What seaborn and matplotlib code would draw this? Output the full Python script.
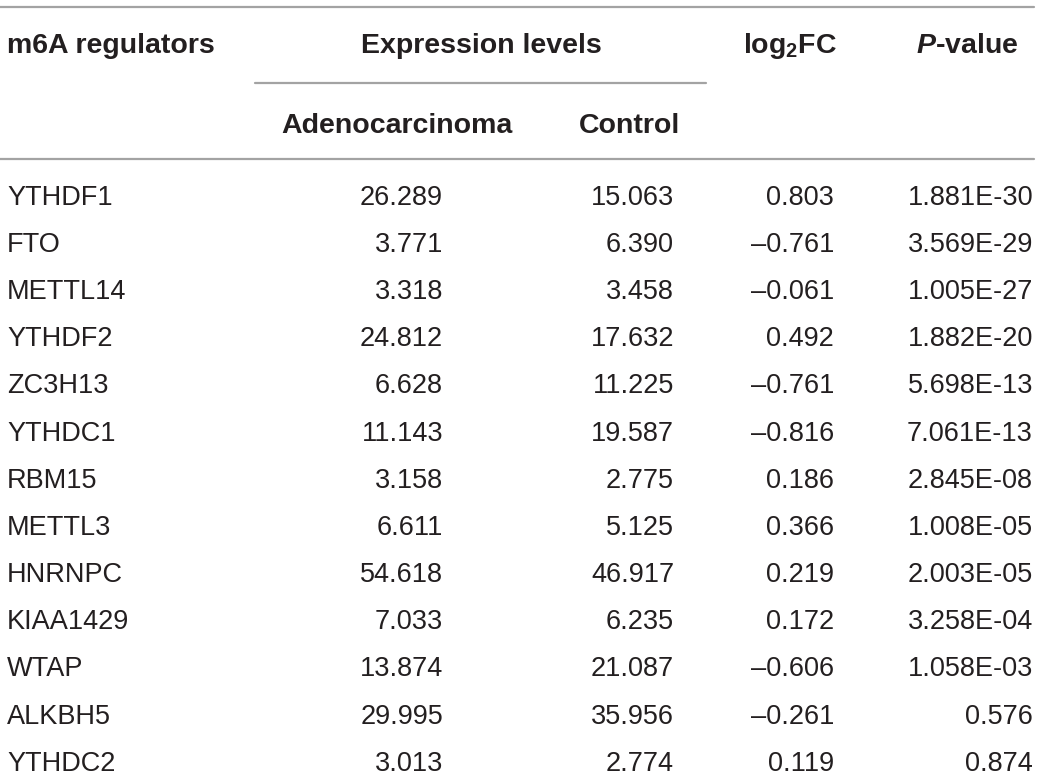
import matplotlib
matplotlib.use("Agg")
from matplotlib import pyplot as plt
import seaborn as sns

sns.set_theme(style="white")
plt.rcParams['font.family'] = ['Liberation Sans', 'DejaVu Sans']
plt.rcParams['mathtext.fontset'] = 'custom'
plt.rcParams['mathtext.rm'] = 'Liberation Sans:bold'
plt.rcParams['mathtext.bf'] = 'Liberation Sans:bold'
plt.rcParams['mathtext.it'] = 'Liberation Sans:bold:italic'

# Table contents
regulators = ["YTHDF1", "FTO", "METTL14", "YTHDF2", "ZC3H13", "YTHDC1", "RBM15",
              "METTL3", "HNRNPC", "KIAA1429", "WTAP", "ALKBH5", "YTHDC2"]
adenocarcinoma = ["26.289", "3.771", "3.318", "24.812", "6.628", "11.143", "3.158",
                  "6.611", "54.618", "7.033", "13.874", "29.995", "3.013"]
control = ["15.063", "6.390", "3.458", "17.632", "11.225", "19.587", "2.775",
           "5.125", "46.917", "6.235", "21.087", "35.956", "2.774"]
log2fc = ["0.803", "\u20130.761", "\u20130.061", "0.492", "\u20130.761", "\u20130.816", "0.186",
          "0.366", "0.219", "0.172", "\u20130.606", "\u20130.261", "0.119"]
p_values = ["1.881E-30", "3.569E-29", "1.005E-27", "1.882E-20", "5.698E-13", "7.061E-13",
            "2.845E-08", "1.008E-05", "2.003E-05", "3.258E-04", "1.058E-03", "0.576", "0.874"]

fig = plt.figure(figsize=(10.4, 7.78), dpi=100)
ax = fig.add_axes([0, 0, 1, 1])
ax.set_xlim(0, 1040)
ax.set_ylim(778, 0)
ax.axis("off")

fs = 19.5
line_col = "#a3a3a3"
txt_col = "#231f20"

# rules
ax.plot([0, 1034], [7, 7], color=line_col, lw=1.6)
ax.plot([255, 706], [82.5, 82.5], color=line_col, lw=1.6)
ax.plot([0, 1034], [158.7, 158.7], color=line_col, lw=1.6)

# header
hdr = dict(fontsize=20.5, fontweight="bold", color=txt_col, va="baseline")
ax.text(7, 53, "m6A regulators", ha="left", **hdr)
ax.text(481, 53, "Expression levels", ha="center", **hdr)
ax.text(790, 53, r"$\mathbf{log_2FC}$", ha="center", **hdr)
ax.text(967, 53, r"$P$-value", ha="center", **hdr)
ax.text(397, 132.5, "Adenocarcinoma", ha="center", **hdr)
ax.text(630, 132.5, "Control", ha="center", **hdr)

# body
row0 = 204.5
step = 47.2
body = dict(fontsize=fs, color=txt_col, va="baseline")
for i, name in enumerate(regulators):
    y = row0 + i * step
    ax.text(7, y, name, ha="left", **body)
    ax.text(443, y, adenocarcinoma[i], ha="right", **body)
    ax.text(674, y, control[i], ha="right", **body)
    ax.text(834, y, log2fc[i], ha="right", **body)
    ax.text(1033, y, p_values[i], ha="right", **body)

fig.savefig("out.png", dpi=100, facecolor="white")
